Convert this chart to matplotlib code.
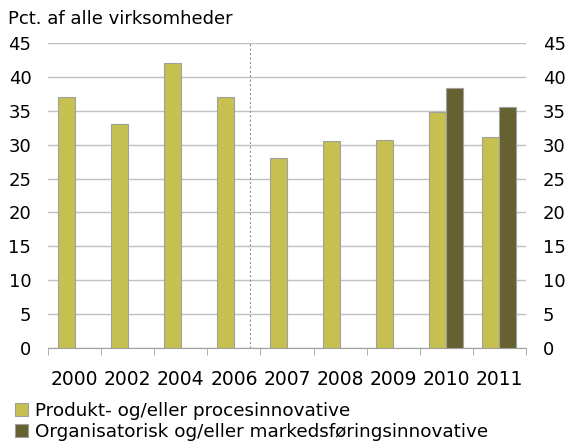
import numpy as np
import matplotlib
matplotlib.use("Agg")
import matplotlib.pyplot as plt

years = ["2000", "2002", "2004", "2006", "2007", "2008", "2009", "2010", "2011"]
produkt = [37.0, 33.0, 42.0, 37.0, 28.0, 30.5, 30.7, 34.8, 31.2]
organisatorisk = [np.nan, np.nan, np.nan, np.nan, np.nan, np.nan, np.nan, 38.4, 35.5]
yticks = [0, 5, 10, 15, 20, 25, 30, 35, 40, 45]

light = "#c5c04f"
dark = "#666131"

plt.rcParams['font.family'] = ['DejaVu Sans']

fig = plt.figure(figsize=(5.68, 4.46), dpi=100)
ax = fig.add_axes([48 / 568, 1 - 348 / 446, 478 / 568, 305 / 446])

x = np.arange(len(years))
w = 0.32
ax.bar(x - w / 2, produkt, w, color=light, edgecolor="#a0a0a0", linewidth=0.8,
       label="Produkt- og/eller procesinnovative", zorder=3)
ax.bar(x + w / 2, organisatorisk, w, color=dark, edgecolor="#a0a0a0", linewidth=0.8,
       label="Organisatorisk og/eller markedsføringsinnovative", zorder=3)

ax.set_xlim(-0.5, len(years) - 0.5)
ax.set_ylim(0, 45)
ax.set_yticks(yticks)
ax.yaxis.grid(True, color="#c0c0c0", linewidth=1)
ax.set_axisbelow(True)

# dashed separator between 2006 and 2007
ax.axvline(3.3, color="#909090", linestyle=(0, (2, 2)), linewidth=0.8, zorder=2)

ax.set_xticks(x)
ax.set_xticklabels(years)
ax.set_xticks(np.arange(-0.5, len(years)), minor=True)
ax.tick_params(axis="x", which="major", length=0, pad=16, labelsize=13.5)
ax.tick_params(axis="x", which="minor", length=5, color="#a0a0a0", direction="out")
ax.tick_params(axis="y", length=0, labelsize=13, labelright=True, pad=12)

for s in ["left", "right", "top"]:
    ax.spines[s].set_visible(False)
ax.spines["bottom"].set_color("#a0a0a0")

fig.text(8 / 568, 1 - 19 / 446, "Pct. af alle virksomheder", fontsize=13, va="center", ha="left")

leg = ax.legend(loc="upper left", bbox_to_anchor=(-33 / 478, -54 / 305), frameon=False,
                fontsize=13.2, handlelength=0.72, handleheight=0.72, handletextpad=0.37,
                labelspacing=0.15, borderaxespad=0, borderpad=0)

fig.savefig("out.png", dpi=100)
